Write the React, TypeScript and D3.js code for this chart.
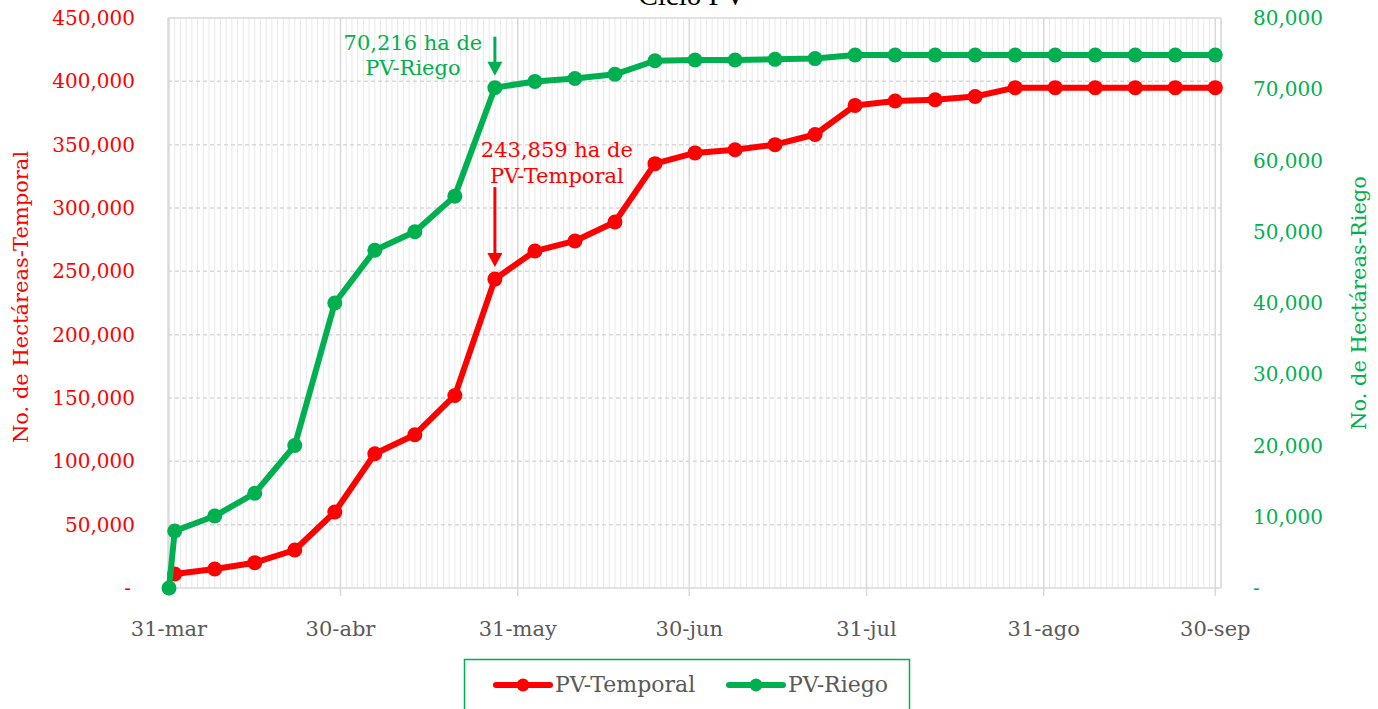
import * as d3 from "d3";
import React from "react";

// weekly cut-off dates (31-mar is the zero start of PV-Riego)
const fechas = [
  "2020-03-31", "2020-04-01", "2020-04-08", "2020-04-15", "2020-04-22", "2020-04-29",
  "2020-05-06", "2020-05-13", "2020-05-20", "2020-05-27", "2020-06-03", "2020-06-10",
  "2020-06-17", "2020-06-24", "2020-07-01", "2020-07-08", "2020-07-15", "2020-07-22",
  "2020-07-29", "2020-08-05", "2020-08-12", "2020-08-19", "2020-08-26", "2020-09-02",
  "2020-09-09", "2020-09-16", "2020-09-23", "2020-09-30",
];

const pvTemporal: (number | null)[] = [
  null, 11000, 15000, 20000, 30000, 60000, 106000, 121000, 152000, 243859,
  266000, 274000, 289000, 335000, 343500, 346000, 350000, 358000, 381000,
  384500, 385500, 388000, 395000, 395000, 395000, 395000, 395000, 395000,
];

const pvRiego: number[] = [
  0, 8000, 10100, 13300, 20000, 40000, 47400, 50000, 55000, 70216,
  71100, 71500, 72100, 74000, 74100, 74100, 74200, 74300, 74800,
  74800, 74800, 74800, 74800, 74800, 74800, 74800, 74800, 74800,
];

const xTicks = ["2020-03-31", "2020-04-30", "2020-05-31", "2020-06-30", "2020-07-31", "2020-08-31", "2020-09-30"];
const xTickLabels = ["31-mar", "30-abr", "31-may", "30-jun", "31-jul", "31-ago", "30-sep"];
const leftTicks = [0, 50000, 100000, 150000, 200000, 250000, 300000, 350000, 400000, 450000];
const rightTicks = [0, 10000, 20000, 30000, 40000, 50000, 60000, 70000, 80000];

const RED = "#ff0000";
const GREEN = "#00b050";
const GREY = "#595959";
const FONT = "'DejaVu Serif', serif";

const parse = d3.timeParse("%Y-%m-%d");

export default function App() {
  const width = 1378;
  const height = 709;
  const left = 169;
  const right = 1221;
  const top = 18;
  const bottom = 588;

  const x = d3
    .scaleTime()
    .domain([parse("2020-03-31")!, parse("2020-10-01")!])
    .range([left, right]);
  const yL = d3.scaleLinear().domain([0, 450000]).range([bottom, top]);
  const yR = d3.scaleLinear().domain([0, 80000]).range([bottom, top]);
  const fmt = d3.format(",");

  const dates = fechas.map((f) => parse(f)!);
  const tempPts = dates
    .map((d, i) => ({ d, v: pvTemporal[i] }))
    .filter((p) => p.v !== null) as { d: Date; v: number }[];
  const riegoPts = dates.map((d, i) => ({ d, v: pvRiego[i] }));

  const lineT = d3
    .line<{ d: Date; v: number }>()
    .x((p) => x(p.d))
    .y((p) => yL(p.v));
  const lineR = d3
    .line<{ d: Date; v: number }>()
    .x((p) => x(p.d))
    .y((p) => yR(p.v));

  // daily gridlines
  const days = d3.timeDay.range(parse("2020-03-31")!, parse("2020-10-02")!);
  const monthEnds = xTicks.map((t) => +parse(t)!);

  // annotation anchors
  const annDate = parse("2020-05-27")!;
  const ax = x(annDate);
  const riegoY = yR(70216);
  const tempY = yL(243859);

  const arrow = (xx: number, y0: number, y1: number, color: string) => (
    <g>
      <line x1={xx} x2={xx} y1={y0} y2={y1 - 12} stroke={color} strokeWidth={3} />
      <path d={`M${xx - 7.5},${y1 - 14} L${xx + 7.5},${y1 - 14} L${xx},${y1} Z`} fill={color} />
    </g>
  );

  return (
    <svg
      width={width}
      height={height}
      style={{ position: "absolute", left: 0, top: 0, background: "#fff" }}
      fontFamily={FONT}
    >
      {/* title, cut at the top as in the original */}
      <text x={692} y={5} textAnchor="middle" fontFamily="'Liberation Serif', serif" fontSize={29} fill="#000">
        Ciclo PV
      </text>

      {/* day gridlines */}
      {days.map((d, i) =>
        monthEnds.includes(+d) ? null : (
          <line key={i} x1={x(d)} x2={x(d)} y1={top} y2={bottom} stroke="#e9e9e9" strokeWidth={1} />
        )
      )}
      {/* horizontal gridlines */}
      {leftTicks.map((t) => (
        <line
          key={t}
          x1={left - 1}
          x2={right}
          y1={yL(t)}
          y2={yL(t)}
          stroke="#d9d9d9"
          strokeWidth={1.5}
          strokeDasharray={t === 0 || t === 450000 ? undefined : "4,3"}
        />
      ))}
      {/* month gridlines and ticks */}
      {xTicks.map((t) => (
        <line key={t} x1={x(parse(t)!)} x2={x(parse(t)!)} y1={top} y2={bottom + 8} stroke="#d9d9d9" strokeWidth={1.5} />
      ))}
      <line x1={left - 1} x2={left - 1} y1={top} y2={bottom} stroke="#d9d9d9" strokeWidth={1.5} />
      <line x1={right} x2={right} y1={top} y2={bottom} stroke="#d9d9d9" strokeWidth={1.5} />

      {/* left axis */}
      {leftTicks.map((t) => (
        <text key={t} x={t === 0 ? 131 : 135} y={yL(t) + 7} textAnchor="end" fontSize={20} fill={RED}>
          {t === 0 ? "-" : fmt(t)}
        </text>
      ))}
      <text
        transform={`translate(28,${297}) rotate(-90)`}
        textAnchor="middle"
        fontSize={21}
        fill={RED}
      >
        No. de Hectáreas-Temporal
      </text>

      {/* right axis */}
      {rightTicks.map((t) => (
        <text key={t} x={1253} y={yR(t) + 7} textAnchor="start" fontSize={20} fill={GREEN}>
          {t === 0 ? "-" : fmt(t)}
        </text>
      ))}
      <text
        transform={`translate(1366,${303}) rotate(-90)`}
        textAnchor="middle"
        fontSize={21}
        fill={GREEN}
      >
        No. de Hectáreas-Riego
      </text>

      {/* x axis labels */}
      {xTicks.map((t, i) => (
        <text key={t} x={x(parse(t)!)} y={636} textAnchor="middle" fontSize={21} fill={GREY}>
          {xTickLabels[i]}
        </text>
      ))}

      {/* series */}
      <path d={lineT(tempPts)!} fill="none" stroke={RED} strokeWidth={6} strokeLinejoin="round" />
      {tempPts.map((p, i) => (
        <circle key={i} cx={x(p.d)} cy={yL(p.v)} r={7.5} fill={RED} />
      ))}
      <path d={lineR(riegoPts)!} fill="none" stroke={GREEN} strokeWidth={6} strokeLinejoin="round" />
      {riegoPts.map((p, i) => (
        <circle key={i} cx={x(p.d)} cy={yR(p.v)} r={7.5} fill={GREEN} />
      ))}

      {/* annotations */}
      <text x={ax - 82} y={riegoY - 38} textAnchor="middle" fontSize={21} fill={GREEN}>
        70,216 ha de
      </text>
      <text x={ax - 82} y={riegoY - 13} textAnchor="middle" fontSize={21} fill={GREEN}>
        PV-Riego
      </text>
      {arrow(ax, riegoY - 51, riegoY - 12, GREEN)}

      <text x={ax + 62} y={tempY - 122} textAnchor="middle" fontSize={21} fill={RED}>
        243,859 ha de
      </text>
      <text x={ax + 62} y={tempY - 96} textAnchor="middle" fontSize={21} fill={RED}>
        PV-Temporal
      </text>
      {arrow(ax, tempY - 92, tempY - 12, RED)}

      {/* legend */}
      <rect x={464.5} y={659.5} width={445} height={60} fill="#fff" stroke={GREEN} strokeWidth={1.5} />
      <line x1={496} x2={550} y1={685} y2={685} stroke={RED} strokeWidth={6} strokeLinecap="round" />
      <circle cx={523} cy={685} r={6.5} fill={RED} />
      <text x={555} y={692} fontSize={22} fill={GREY}>PV-Temporal</text>
      <line x1={729} x2={783} y1={685} y2={685} stroke={GREEN} strokeWidth={6} strokeLinecap="round" />
      <circle cx={756} cy={685} r={6.5} fill={GREEN} />
      <text x={788} y={692} fontSize={22} fill={GREY}>PV-Riego</text>
    </svg>
  );
}
